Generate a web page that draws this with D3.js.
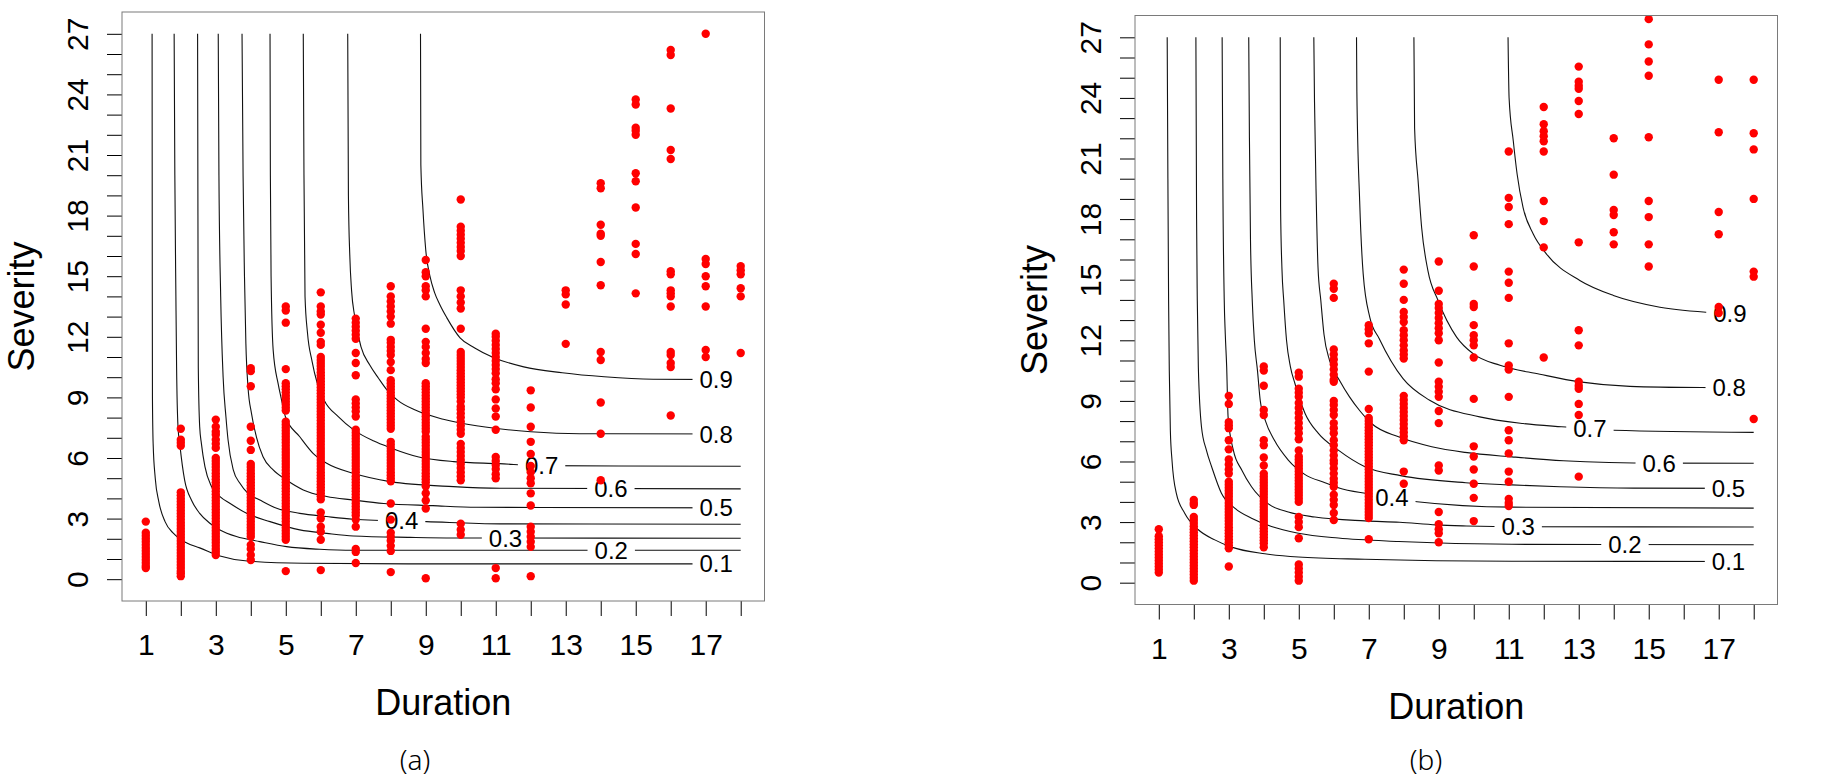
<!DOCTYPE html>
<html>
<head>
<meta charset="utf-8">
<script src="https://cdn.jsdelivr.net/npm/d3@7"></script>
<style>
  body { margin: 0; background: #fff; }
  svg { display: block; }
  svg text { font-family: "Liberation Sans", Arial, sans-serif; fill: #000; }
</style>
</head>
<body>
<div id="chart"></div>
<script>
// categories / ticks
const durations = [1, 2, 3, 4, 5, 6, 7, 8, 9, 10, 11, 12, 13, 14, 15, 16, 17, 18];
const xTickLabels = [1, 3, 5, 7, 9, 11, 13, 15, 17];
const severityTicks = [0, 1, 2, 3, 4, 5, 6, 7, 8, 9, 10, 11, 12, 13, 14, 15, 16, 17, 18, 19, 20, 21, 22, 23, 24, 25, 26, 27];
const yTickLabels = [0, 3, 6, 9, 12, 15, 18, 21, 24, 27];
const probLevels = [0.1, 0.2, 0.3, 0.4, 0.5, 0.6, 0.7, 0.8, 0.9];

// observed severities per duration, panel (a)
const severityA = [
  [2.85, 2.3, 2.15, 2.0, 1.85, 1.7, 1.55, 1.4, 1.25, 1.1, 0.95, 0.8, 0.65, 0.55],
  [7.45, 6.9, 6.75, 6.6, 4.3, 4.15, 4.0, 3.85, 3.7, 3.55, 3.4, 3.25, 3.1, 2.95, 2.8, 2.65, 2.5, 2.35, 2.2, 2.05, 1.9, 1.75, 1.6, 1.45, 1.3, 1.15, 1.0, 0.85, 0.7, 0.55, 0.4, 0.3, 0.15],
  [7.9, 7.55, 7.3, 7.15, 6.9, 6.7, 6.5, 6.0, 5.85, 5.7, 5.55, 5.4, 5.25, 5.1, 4.95, 4.8, 4.65, 4.5, 4.35, 4.2, 4.05, 3.9, 3.75, 3.6, 3.45, 3.3, 3.15, 3.0, 2.85, 2.7, 2.55, 2.4, 2.25, 2.1, 1.95, 1.8, 1.65, 1.5, 1.35, 1.2],
  [10.45, 10.3, 9.55, 7.55, 6.85, 6.4, 5.7, 5.55, 5.4, 5.25, 5.1, 4.95, 4.8, 4.65, 4.5, 4.35, 4.2, 4.05, 3.9, 3.75, 3.6, 3.45, 3.3, 3.15, 3.0, 2.85, 2.7, 2.55, 2.4, 2.25, 2.1, 1.7, 1.5, 1.2, 0.95],
  [13.5, 13.3, 12.7, 10.4, 9.7, 9.55, 9.4, 9.25, 9.1, 8.95, 8.8, 8.65, 8.5, 8.35, 7.8, 7.65, 7.5, 7.35, 7.2, 7.05, 6.9, 6.75, 6.6, 6.45, 6.3, 6.15, 6.0, 5.85, 5.7, 5.55, 5.4, 5.25, 5.1, 4.95, 4.8, 4.65, 4.5, 4.35, 4.2, 4.05, 3.9, 3.75, 3.6, 3.45, 3.3, 3.15, 3.0, 2.85, 2.7, 2.55, 2.4, 2.25, 2.1, 1.95, 0.4],
  [14.2, 13.5, 13.25, 13.1, 12.6, 12.2, 11.75, 11.6, 11.0, 10.85, 10.7, 10.55, 10.4, 10.25, 10.1, 9.95, 9.8, 9.65, 9.5, 9.35, 9.2, 9.05, 8.9, 8.75, 8.6, 8.45, 8.3, 8.15, 8.0, 7.85, 7.7, 7.55, 7.4, 7.25, 7.1, 6.95, 6.8, 6.65, 6.5, 6.35, 6.2, 6.05, 5.9, 5.75, 5.6, 5.45, 5.3, 5.15, 5.0, 4.85, 4.7, 4.55, 4.4, 4.25, 4.1, 3.95, 3.3, 3.0, 2.6, 2.35, 1.95, 0.45],
  [12.9, 12.7, 12.5, 12.3, 12.1, 11.9, 11.2, 10.7, 10.1, 8.9, 8.7, 8.5, 8.3, 8.05, 7.4, 7.25, 7.1, 6.95, 6.8, 6.65, 6.5, 6.35, 6.2, 6.05, 5.9, 5.75, 5.6, 5.45, 5.3, 5.1, 4.95, 4.8, 4.65, 4.5, 4.35, 4.2, 4.05, 3.9, 3.75, 3.6, 3.45, 3.3, 3.15, 2.95, 2.6, 1.5, 1.35, 0.8],
  [14.5, 14.0, 13.75, 13.5, 13.25, 13.0, 12.65, 11.85, 11.7, 11.5, 11.3, 11.1, 10.75, 10.35, 9.85, 9.7, 9.55, 9.4, 9.25, 9.1, 8.95, 8.8, 8.65, 8.5, 8.35, 8.2, 8.05, 7.9, 7.75, 7.6, 7.45, 6.8, 6.65, 6.5, 6.35, 6.2, 6.05, 5.9, 5.75, 5.6, 5.45, 5.3, 5.15, 5.0, 4.85, 3.75, 2.95, 2.3, 2.1, 1.9, 1.65, 1.4, 0.35],
  [15.8, 15.2, 15.0, 14.5, 14.3, 14.0, 12.4, 11.75, 11.5, 11.2, 10.9, 10.7, 9.7, 9.55, 9.4, 9.25, 9.1, 8.95, 8.8, 8.65, 8.5, 8.35, 8.2, 8.05, 7.9, 7.75, 7.6, 7.45, 7.3, 7.05, 6.9, 6.75, 6.6, 6.45, 6.3, 6.15, 6.0, 5.85, 5.7, 5.55, 5.4, 5.25, 5.1, 4.95, 4.8, 4.6, 4.25, 3.9, 3.5, 0.05],
  [18.8, 17.45, 17.25, 17.05, 16.85, 16.65, 16.45, 16.25, 16.0, 14.3, 14.0, 13.7, 13.4, 12.4, 11.25, 11.1, 10.95, 10.8, 10.65, 10.5, 10.35, 10.2, 10.05, 9.9, 9.75, 9.6, 9.45, 9.3, 9.15, 9.0, 8.8, 8.55, 8.4, 8.2, 8.0, 7.8, 7.6, 7.4, 7.2, 6.7, 6.5, 6.3, 6.1, 5.9, 5.7, 5.5, 5.3, 5.1, 4.9, 2.75, 2.45, 2.2],
  [12.15, 12.0, 11.8, 11.6, 11.4, 11.2, 11.0, 10.8, 10.6, 10.4, 10.2, 9.9, 9.7, 9.4, 8.9, 8.45, 8.05, 7.4, 6.05, 5.85, 5.65, 5.45, 5.2, 5.0, 0.55, 0.05],
  [9.35, 8.5, 7.55, 6.8, 6.2, 5.6, 5.3, 5.0, 4.75, 4.25, 3.65, 2.6, 2.35, 2.1, 1.85, 1.6, 0.15],
  [14.3, 14.1, 13.6, 11.65],
  [19.6, 19.35, 17.55, 17.1, 17.0, 15.7, 14.55, 11.25, 10.85, 8.75, 7.2, 4.9],
  [23.75, 23.5, 22.35, 22.2, 22.0, 20.1, 19.7, 18.4, 16.6, 16.1, 14.15],
  [26.2, 25.95, 23.3, 21.25, 20.8, 15.25, 15.1, 14.3, 14.15, 14.0, 13.5, 11.25, 11.1, 10.7, 10.5, 8.1],
  [27.0, 15.85, 15.6, 15.0, 14.5, 13.5, 11.35, 11.0],
  [15.5, 15.3, 15.1, 14.4, 14.0, 11.2]
];

// observed severities per duration, panel (b)
const severityB = [
  [2.65, 2.3, 2.15, 2.0, 1.85, 1.7, 1.55, 1.4, 1.25, 1.1, 0.95, 0.8, 0.65, 0.5],
  [4.1, 3.95, 3.85, 3.25, 3.1, 2.95, 2.8, 2.65, 2.5, 2.35, 2.2, 2.05, 1.9, 1.75, 1.6, 1.45, 1.3, 1.15, 1.0, 0.85, 0.7, 0.55, 0.4, 0.25, 0.1],
  [9.25, 8.85, 7.95, 7.8, 7.65, 7.05, 6.6, 6.1, 5.85, 5.6, 5.4, 5.0, 4.85, 4.7, 4.55, 4.4, 4.25, 4.1, 3.95, 3.8, 3.65, 3.5, 3.35, 3.2, 3.05, 2.9, 2.75, 2.6, 2.45, 2.3, 2.15, 2.0, 1.85, 1.7, 0.8],
  [10.7, 10.5, 9.75, 8.55, 8.3, 7.05, 6.8, 6.2, 5.8, 5.4, 5.25, 5.1, 4.95, 4.8, 4.65, 4.5, 4.35, 4.2, 4.05, 3.9, 3.75, 3.6, 3.45, 3.3, 3.15, 3.0, 2.85, 2.7, 2.55, 2.4, 2.25, 2.1, 1.95, 1.75],
  [10.4, 10.2, 9.6, 9.4, 9.2, 8.9, 8.65, 8.4, 8.15, 7.9, 7.65, 7.4, 7.1, 6.55, 6.25, 6.1, 5.95, 5.8, 5.65, 5.5, 5.35, 5.2, 5.05, 4.9, 4.75, 4.6, 4.45, 4.3, 4.15, 4.0, 3.25, 3.0, 2.75, 2.2, 0.9, 0.7, 0.5, 0.3, 0.1],
  [14.8, 14.55, 14.1, 11.55, 11.3, 11.05, 10.8, 10.55, 10.3, 10.05, 9.95, 9.0, 8.8, 8.55, 8.3, 7.9, 7.65, 7.4, 7.05, 6.8, 6.55, 6.3, 6.05, 5.9, 5.65, 5.4, 5.15, 4.95, 4.75, 4.35, 4.1, 3.85, 3.45, 3.1],
  [12.75, 12.55, 12.35, 11.85, 10.45, 8.6, 8.15, 8.0, 7.85, 7.7, 7.55, 7.4, 7.25, 7.1, 6.95, 6.8, 6.65, 6.5, 6.35, 6.2, 6.05, 5.9, 5.75, 5.6, 5.45, 5.3, 5.15, 5.0, 4.85, 4.7, 4.55, 4.4, 4.25, 4.1, 3.95, 3.8, 3.65, 3.5, 3.35, 3.2, 2.15],
  [15.5, 14.8, 14.0, 13.4, 13.15, 12.9, 12.5, 12.25, 12.0, 11.75, 11.5, 11.3, 11.1, 9.25, 9.05, 8.85, 8.65, 8.45, 8.25, 8.05, 7.85, 7.65, 7.45, 7.25, 7.05, 5.5, 4.9],
  [15.9, 14.45, 13.8, 13.6, 13.35, 13.1, 12.85, 12.6, 12.35, 12.0, 10.9, 9.95, 9.7, 9.45, 9.2, 8.5, 7.9, 5.8, 5.55, 3.5, 2.9, 2.65, 2.45, 2.0],
  [17.2, 15.65, 13.8, 13.65, 12.75, 12.25, 12.0, 11.75, 11.15, 9.1, 6.75, 6.25, 5.6, 4.9, 4.2, 3.05],
  [21.35, 19.05, 18.6, 17.75, 15.4, 14.85, 14.1, 11.85, 10.75, 10.55, 9.2, 7.55, 7.05, 6.4, 5.5, 5.0, 4.15, 3.95, 3.8],
  [23.55, 22.7, 22.35, 22.1, 21.85, 21.35, 18.9, 17.9, 16.6, 11.15],
  [25.55, 24.8, 24.6, 24.45, 23.85, 23.2, 16.85, 12.5, 11.75, 9.95, 9.75, 9.6, 8.85, 8.3, 5.25],
  [22.0, 20.2, 18.45, 18.2, 17.35, 16.75],
  [27.9, 26.65, 25.8, 25.1, 22.05, 18.9, 18.1, 16.75, 15.65],
  [],
  [24.9, 22.3, 18.35, 17.25, 13.65, 13.35],
  [24.9, 22.25, 21.45, 19.0, 15.4, 15.15, 8.1]
];

// joint probability contours, [duration, severity], panel (a)
const contoursA = [
  [[1.18, 27], [1.185, 15], [1.19, 9], [1.21, 6.7], [1.27, 5], [1.37, 3.85], [1.55, 2.85], [1.8, 2.25], [2.16, 1.8], [2.54, 1.55], [3.12, 1.15], [3.9, 0.9], [5.5, 0.79], [8.5, 0.76], [18, 0.76]],
  [[1.81, 27], [1.83, 20], [1.86, 14], [1.88, 10.5], [1.92, 7.55], [1.97, 6.7], [2.11, 4.9], [2.31, 3.9], [2.54, 3.26], [2.83, 2.77], [3.12, 2.44], [3.59, 2.11], [4.26, 1.86], [5.02, 1.61], [5.97, 1.48], [6.93, 1.43], [18, 1.43]],
  [[2.48, 27], [2.49, 18], [2.5, 10.5], [2.54, 7.55], [2.59, 6.7], [2.69, 5.57], [2.88, 4.58], [3.12, 4.09], [3.4, 3.76], [3.88, 3.26], [4.55, 2.85], [5.4, 2.44], [6.17, 2.27], [6.93, 2.14], [8.55, 2.07], [9.79, 2.04], [18, 2.03]],
  [[3.07, 27], [3.09, 20], [3.14, 14], [3.21, 10.0], [3.29, 8.04], [3.35, 6.9], [3.5, 5.41], [3.69, 4.75], [3.92, 4.25], [4.26, 3.92], [4.74, 3.51], [5.4, 3.26], [6.17, 3.1], [6.93, 2.97], [9.02, 2.85], [11.12, 2.74], [18, 2.72]],
  [[3.75, 27], [3.78, 20], [3.82, 15], [3.86, 11.67], [3.92, 9.53], [4.02, 8.21], [4.16, 7.05], [4.35, 6.06], [4.64, 5.41], [5.02, 4.91], [5.5, 4.42], [6.17, 4.09], [6.93, 3.92], [7.8, 3.75], [9.2, 3.64], [10.45, 3.56], [18, 3.53]],
  [[4.55, 27], [4.56, 20], [4.58, 15], [4.64, 11.34], [4.78, 9.69], [4.88, 8.87], [4.99, 8.04], [5.4, 7.05], [5.78, 6.23], [6.17, 5.74], [6.93, 5.24], [7.98, 4.83], [9.79, 4.58], [11.12, 4.5], [18, 4.47]],
  [[5.5, 27], [5.52, 20], [5.55, 14], [5.62, 12.2], [5.75, 10.8], [5.9, 9.7], [6.1, 8.85], [6.5, 8.05], [6.95, 7.38], [7.5, 6.85], [8.0, 6.5], [8.8, 6.05], [9.8, 5.82], [11.1, 5.72], [12.3, 5.62], [18, 5.59]],
  [[6.77, 27], [6.79, 19], [6.83, 16], [6.88, 14.3], [6.97, 13.0], [7.15, 11.5], [7.4, 10.6], [7.65, 9.95], [7.9, 9.35], [8.2, 8.85], [8.7, 8.37], [9.5, 7.92], [10.5, 7.58], [12.0, 7.3], [13.4, 7.2], [18, 7.19]],
  [[8.85, 27], [8.86, 20.5], [8.92, 18.3], [9.0, 16.3], [9.12, 15.0], [9.25, 14.2], [9.4, 13.6], [9.6, 12.95], [9.98, 11.95], [10.4, 11.45], [10.9, 11.0], [11.8, 10.51], [12.9, 10.22], [14.1, 10.02], [15.5, 9.9], [18, 9.88]]
];

// joint probability contours, panel (b)
const contoursB = [
  [[1.24, 27], [1.26, 20], [1.28, 14], [1.3, 10.5], [1.33, 7.55], [1.38, 6.0], [1.5, 4.43], [1.74, 3.44], [2.13, 2.62], [2.6, 2.12], [3.08, 1.76], [4.03, 1.43], [4.99, 1.27], [6.89, 1.16], [11.09, 1.06], [18, 1.05]],
  [[2.06, 27], [2.08, 18], [2.1, 13.97], [2.13, 10.68], [2.22, 7.71], [2.36, 6.56], [2.51, 5.74], [2.79, 4.43], [3.17, 3.69], [3.65, 3.19], [4.22, 2.78], [4.99, 2.45], [6.13, 2.21], [7.85, 2.04], [11.09, 1.9], [18, 1.88]],
  [[2.81, 27], [2.83, 20], [2.87, 14], [2.9, 12.3], [2.94, 10.68], [2.98, 8.21], [3.13, 6.56], [3.37, 5.58], [3.65, 4.75], [4.13, 3.9], [4.7, 3.5], [5.46, 3.25], [6.89, 3.06], [7.88, 2.99], [8.93, 2.86], [9.79, 2.81], [11.27, 2.77], [18, 2.76]],
  [[3.57, 27], [3.59, 22], [3.62, 17], [3.67, 14], [3.73, 12], [3.82, 10.5], [3.9, 9.0], [4.05, 8.0], [4.3, 7.06], [4.7, 6.07], [5.18, 5.35], [5.75, 4.95], [6.13, 4.7], [7.0, 4.39], [8.38, 4.01], [11.09, 3.74], [18, 3.69]],
  [[4.47, 27], [4.48, 18.6], [4.52, 15.5], [4.57, 13.97], [4.65, 12.0], [4.76, 10.7], [4.89, 9.86], [5.18, 8.38], [5.56, 7.39], [6.13, 6.56], [6.89, 5.74], [7.91, 5.3], [9.77, 4.95], [11.09, 4.84], [12.46, 4.75], [14.56, 4.68], [18, 4.67]],
  [[5.43, 27], [5.45, 23.8], [5.5, 18.9], [5.55, 15.6], [5.63, 13.97], [5.72, 12.3], [5.88, 11.0], [6.17, 10.0], [6.45, 9.2], [6.75, 8.5], [7.08, 7.88], [7.85, 7.22], [8.8, 6.73], [9.75, 6.45], [11.09, 6.23], [12.56, 6.04], [15.3, 5.92], [18, 5.91]],
  [[6.65, 27], [6.66, 24.3], [6.74, 18.9], [6.84, 15.3], [7.03, 13.14], [7.3, 12.08], [7.98, 10.1], [8.74, 9.03], [10.17, 8.21], [11.41, 7.88], [12.51, 7.72], [13.99, 7.55], [18, 7.44]],
  [[8.29, 27], [8.31, 22.5], [8.41, 19.9], [8.51, 17.6], [8.69, 15.45], [8.98, 13.97], [9.51, 12.16], [9.98, 11.34], [10.75, 10.76], [11.89, 10.32], [13.03, 9.94], [14.46, 9.72], [16.5, 9.66], [18, 9.65]],
  [[10.98, 27], [11.01, 24.0], [11.13, 21.87], [11.24, 20.22], [11.41, 18.57], [11.7, 17.26], [12.08, 16.27], [13.03, 14.96], [13.99, 14.22], [15.32, 13.64], [17.0, 13.36], [18, 13.3]]
];

// where each contour label sits along the duration axis
const labelDurA = [17.3, 14.3, 11.28, 8.31, 17.3, 14.29, 12.31, 17.3, 17.3];
const labelDurB = [17.28, 14.32, 11.27, 7.66, 17.28, 15.3, 13.32, 17.3, 17.32];

const W = 1841, H = 779;
const svg = d3.select('#chart').append('svg')
    .attr('width', W)
    .attr('height', H);
svg.append('rect').attr('width', W).attr('height', H).attr('fill', '#fff');
const defs = svg.append('defs');

// linear interpolation of severity along a contour polyline
function severityAt(pts, d) {
    for (let i = 1; i < pts.length; i++) {
        if (d <= pts[i][0]) {
            const a = pts[i - 1], b = pts[i];
            const t = (d - a[0]) / (b[0] - a[0]);
            return a[1] + t * (b[1] - a[1]);
        }
    }
    return pts[pts.length - 1][1];
}

function drawPanel(cfg) {
    const x = d3.scaleLinear().domain([0.32, 18.68]).range([cfg.left, cfg.right]);
    const y = d3.scaleLinear().domain([-1.08, 28.08]).range([cfg.bottom, cfg.top]);
    const g = svg.append('g');

    // axes
    const xAxis = d3.axisBottom(x)
        .tickValues(durations)
        .tickSize(15)
        .tickPadding(18)
        .tickFormat(d => xTickLabels.includes(d) ? d : '');
    const xg = g.append('g')
        .attr('transform', `translate(0,${cfg.bottom})`)
        .call(xAxis);
    xg.select('.domain').remove();
    xg.selectAll('.tick line').attr('stroke', '#000');
    xg.selectAll('.tick text')
        .style('font-size', '30px')
        .style('font-family', '"Liberation Sans", Arial, sans-serif')
        .attr('fill', '#000');

    const yAxis = d3.axisLeft(y)
        .tickValues(severityTicks)
        .tickSize(15)
        .tickFormat(d => yTickLabels.includes(d) ? d : '');
    const yg = g.append('g')
        .attr('transform', `translate(${cfg.left},0)`)
        .call(yAxis);
    yg.select('.domain').remove();
    yg.selectAll('.tick line').attr('stroke', '#000');
    yg.selectAll('.tick text')
        .attr('x', null)
        .attr('dy', '0.35em')
        .attr('text-anchor', 'middle')
        .attr('transform', 'translate(-45,0) rotate(-90)')
        .style('font-size', '30px')
        .style('font-family', '"Liberation Sans", Arial, sans-serif')
        .attr('fill', '#000');

    // contour lines with gaps for labels
    const line = d3.line()
        .x(p => x(p[0]))
        .y(p => y(p[1]))
        .curve(d3.curveMonotoneX);
    const lineLayer = g.append('g');
    const labelLayer = g.append('g');
    const xEnd = x(durations[durations.length - 1]);
    cfg.contours.forEach((pts, i) => {
        const ld = cfg.labelDur[i];
        const lx = x(ld), ly = y(severityAt(pts, ld));
        const txt = labelLayer.append('text')
            .attr('x', lx)
            .attr('y', ly)
            .attr('dy', '0.36em')
            .attr('text-anchor', 'middle')
            .style('font-size', '24px')
            .text(probLevels[i]);
        const hw = txt.node().getComputedTextLength() / 2 + 7;
        let gapR = lx + hw;
        if (xEnd - gapR < 8) gapR = xEnd + 3;
        const clipId = `gap-${cfg.id}-${i}`;
        defs.append('clipPath').attr('id', clipId)
            .append('path')
            .attr('clip-rule', 'evenodd')
            .attr('d', `M0,0H${W}V${H}H0Z M${lx - hw},${ly - 14}H${gapR}V${ly + 14}H${lx - hw}Z`);
        lineLayer.append('path')
            .attr('d', line(pts))
            .attr('fill', 'none')
            .attr('stroke', '#111')
            .attr('stroke-width', 1.1)
            .attr('clip-path', `url(#${clipId})`);
    });

    // observations
    const boxClip = `box-${cfg.id}`;
    defs.append('clipPath').attr('id', boxClip)
        .append('rect')
        .attr('x', cfg.left).attr('y', cfg.top)
        .attr('width', cfg.right - cfg.left).attr('height', cfg.bottom - cfg.top);
    const obs = durations.flatMap((d, i) => cfg.severity[i].map(s => ({ d, s })));
    g.append('g')
        .attr('clip-path', `url(#${boxClip})`)
        .selectAll('circle')
        .data(obs)
        .join('circle')
        .attr('cx', p => x(p.d))
        .attr('cy', p => y(p.s))
        .attr('r', 4.2)
        .attr('fill', '#ff0000');

    // frame
    g.append('rect')
        .attr('x', cfg.left).attr('y', cfg.top)
        .attr('width', cfg.right - cfg.left).attr('height', cfg.bottom - cfg.top)
        .attr('fill', 'none')
        .attr('stroke', '#7a7a7a')
        .attr('stroke-width', 1);

    // titles
    g.append('text')
        .attr('transform', `translate(${cfg.left - 88},${(cfg.top + cfg.bottom) / 2}) rotate(-90)`)
        .attr('text-anchor', 'middle')
        .style('font-size', '36px')
        .text('Severity');
    g.append('text')
        .attr('x', (cfg.left + cfg.right) / 2)
        .attr('y', cfg.bottom + 114)
        .attr('text-anchor', 'middle')
        .style('font-size', '36px')
        .text('Duration');
    g.append('text')
        .attr('x', cfg.tagX)
        .attr('y', 770)
        .attr('text-anchor', 'middle')
        .style('font-family', '"Noto Sans", "Open Sans", sans-serif')
        .style('font-weight', 300)
        .style('font-size', '28px')
        .attr('fill', '#222')
        .text(cfg.tag);
}

drawPanel({ id: 'a', left: 122, right: 764.5, top: 12, bottom: 601, tagX: 415, tag: '(a)',
    severity: severityA, contours: contoursA, labelDur: labelDurA });
drawPanel({ id: 'b', left: 1135, right: 1777.5, top: 15.5, bottom: 604.5, tagX: 1426, tag: '(b)',
    severity: severityB, contours: contoursB, labelDur: labelDurB });
</script>
</body>
</html>
